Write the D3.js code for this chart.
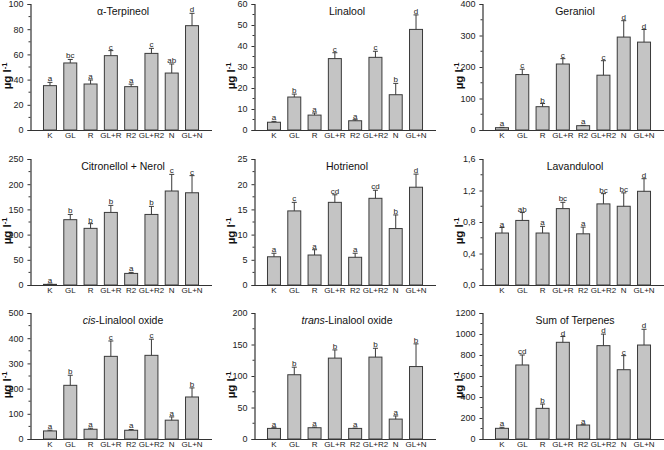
<!DOCTYPE html>
<html><head><meta charset="utf-8">
<script src="https://cdn.jsdelivr.net/npm/d3@7"></script>
<style>
html,body{margin:0;padding:0;background:#fff;}
svg{display:block;font-family:"Liberation Sans",Arial,sans-serif;}
</style></head>
<body><svg id="chart" width="664" height="450"></svg>
<script>
const groups = ["K","GL","R","GL+R","R2","GL+R2","N","GL+N"];

const terpineolMean = [35.2,53.2,36.5,59,34.4,60.8,45.2,82.8];
const terpineolErr  = [2.6,2.8,3.2,4,2,4,7.2,9.8];
const terpineolLet  = ["a","bc","a","c","a","c","ab","d"];

const linaloolMean = [3.7,15.7,7.1,34,4.4,34.6,16.8,47.9];
const linaloolErr  = [0.4,1.4,1.0,2.8,0.5,2.9,5.4,6.9];
const linaloolLet  = ["a","b","a","c","a","c","b","d"];

const geraniolMean = [7.4,176,74,209.5,13.7,174,295,279];
const geraniolErr  = [1,17,10,17,1,46,52,40];
const geraniolLet  = ["a","c","b","c","a","c","d","d"];

const citronellolMean = [1.3,129.6,112.4,144,23,140,186.5,183];
const citronellolErr  = [0.5,10.4,9.3,14,2,16,33,34];
const citronellolLet  = ["a","b","b","b","a","b","c","c"];

const hotrienolMean = [5.6,14.7,5.95,16.4,5.5,17.2,11.2,19.4];
const hotrienolErr  = [0.7,1.7,1.05,1.5,0.8,1.6,2.7,2.6];
const hotrienolLet  = ["a","c","a","cd","a","cd","b","d"];

const lavanduloolMean = [0.66,0.82,0.66,0.97,0.65,1.03,1.00,1.19];
const lavanduloolErr  = [0.07,0.1,0.085,0.08,0.085,0.13,0.17,0.16];
const lavanduloolLet  = ["a","ab","a","bc","a","bc","bc","d"];

const cisMean = [32,213,38.7,328,34.7,332,74.7,166.7];
const cisErr  = [3,40,4,61,3,64,13,36];
const cisLet  = ["a","b","a","c","a","c","a","b"];

const transMean = [16.8,102,17.9,128.4,16.8,130,31.6,115];
const transErr  = [1.1,12,1,13,0.5,14,5,36];
const transLet  = ["a","b","a","b","a","b","a","b"];

const sumMean = [101.6,705,292,921,133,889,660,895];
const sumErr  = [10,95,41,55,3,110,134,150];
const sumLet  = ["a","cd","b","d","a","d","c","d"];

const yMax   = [100,60,400,250,25,1.6,500,200,1200];
const yMajor = [20,10,100,50,5,0.4,100,50,200];
const titles = [
  [["","α-Terpineol"]],
  [["","Linalool"]],
  [["","Geraniol"]],
  [["","Citronellol + Nerol"]],
  [["","Hotrienol"]],
  [["","Lavandulool"]],
  [["i","cis"],["","-Linalool oxide"]],
  [["i","trans"],["","-Linalool oxide"]],
  [["","Sum of Terpenes"]]
];

const panels = [
  {mean:terpineolMean, err:terpineolErr, lets:terpineolLet},
  {mean:linaloolMean, err:linaloolErr, lets:linaloolLet},
  {mean:geraniolMean, err:geraniolErr, lets:geraniolLet},
  {mean:citronellolMean, err:citronellolErr, lets:citronellolLet},
  {mean:hotrienolMean, err:hotrienolErr, lets:hotrienolLet},
  {mean:lavanduloolMean, err:lavanduloolErr, lets:lavanduloolLet},
  {mean:cisMean, err:cisErr, lets:cisLet},
  {mean:transMean, err:transErr, lets:transLet},
  {mean:sumMean, err:sumErr, lets:sumLet}
];

// layout
const colX = [30.5, 254.5, 482.5];
const rowY = [4, 159, 313];
const PH = 126, PW = 181;
const ink = "#333";

const svg = d3.select("#chart");

panels.forEach((p, i) => {
  const gx = colX[i % 3], gy = rowY[Math.floor(i / 3)];
  const g = svg.append("g").attr("transform", `translate(${gx},${gy})`);
  const x = d3.scaleBand().domain(groups).range([0, PW]).paddingInner(0.36).paddingOuter(0.64);
  const y = d3.scaleLinear().domain([0, yMax[i]]).range([PH, 0]);
  const step = yMajor[i];
  const nMaj = Math.round(yMax[i] / step);
  const majors = d3.range(nMaj + 1).map(k => k * step);
  const minors = d3.range(nMaj).map(k => (k + 0.5) * step);
  const fmt = i === 5 ? (v => d3.format(".1f")(v).replace(".", ",")) : d3.format("d");

  // y axis
  const ya = g.append("g").call(d3.axisLeft(y).tickValues(majors).tickFormat(fmt).tickSizeOuter(0).tickSize(3).tickPadding(4));
  ya.select(".domain").attr("stroke", ink).attr("stroke-width", 1.2);
  ya.selectAll(".tick line").attr("stroke", ink);
  ya.selectAll(".tick text").attr("font-size", 9).attr("fill", "#222").attr("font-family", "Liberation Sans, Arial, sans-serif");
  g.append("g").selectAll("line").data(minors).join("line")
    .attr("x1", -2).attr("x2", 0).attr("y1", d => y(d)).attr("y2", d => y(d)).attr("stroke", ink);

  // x axis
  const xa = g.append("g").attr("transform", `translate(0,${PH})`)
    .call(d3.axisBottom(x).tickSize(0).tickPadding(2.5).tickSizeOuter(0));
  xa.select(".domain").attr("stroke", ink).attr("stroke-width", 1.2);
  xa.selectAll(".tick text").attr("font-size", 8).attr("fill", "#222").attr("font-family", "Liberation Sans, Arial, sans-serif");

  // bars
  g.append("g").selectAll("rect").data(groups).join("rect")
    .attr("x", d => x(d)).attr("width", x.bandwidth())
    .attr("y", (d, k) => y(p.mean[k])).attr("height", (d, k) => PH - y(p.mean[k]))
    .attr("fill", "#c4c4c4").attr("stroke", "#3a3a3a").attr("stroke-width", 1);

  // error bars
  const eb = g.append("g").attr("stroke", "#3a3a3a").attr("stroke-width", 1);
  groups.forEach((d, k) => {
    const cx = x(d) + x.bandwidth() / 2;
    const yt = y(p.mean[k] + p.err[k]);
    eb.append("line").attr("x1", cx).attr("x2", cx).attr("y1", y(p.mean[k])).attr("y2", yt);
    eb.append("line").attr("x1", cx - 2.5).attr("x2", cx + 2.5).attr("y1", yt).attr("y2", yt);
  });

  // letters
  g.append("g").selectAll("text").data(groups).join("text")
    .attr("x", d => x(d) + x.bandwidth() / 2)
    .attr("y", (d, k) => y(p.mean[k] + p.err[k]) - 1)
    .attr("text-anchor", "middle").attr("font-size", 8).attr("fill", "#222")
    .text((d, k) => p.lets[k]);

  // title
  const t = g.append("text").attr("x", PW / 2 + 2).attr("y", 10.5)
    .attr("text-anchor", "middle").attr("font-size", 10.5).attr("fill", "#111");
  titles[i].forEach(([style, s]) => {
    t.append("tspan").attr("font-style", style === "i" ? "italic" : "normal").text(s);
  });

  // y label
  const yl = g.append("text").attr("transform", `translate(-20,${PH / 2 + 9}) rotate(-90)`)
    .attr("text-anchor", "middle").attr("font-size", 11.5).attr("font-weight", "bold").attr("fill", "#111");
  yl.append("tspan").text("µg l");
  yl.append("tspan").attr("dy", -4).attr("font-size", 7.5).text("-1");
});
</script>
</body></html>
